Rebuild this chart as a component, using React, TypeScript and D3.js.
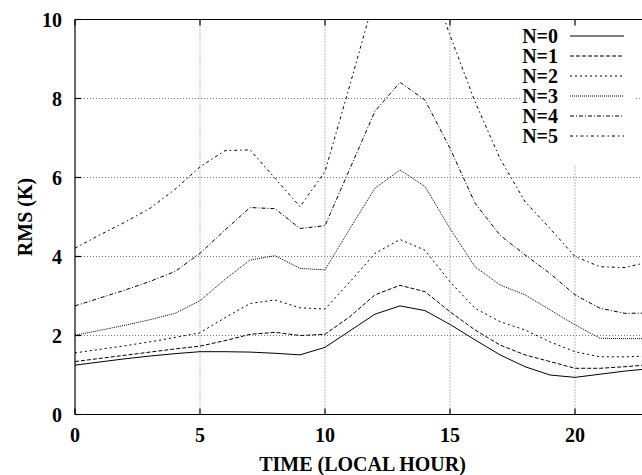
import React from "react";
import * as d3 from "d3";

// Local hour of each sample
const hours = d3.range(0, 24);

// RMS (K) per local hour, one series per N
const rmsN0 = [1.25, 1.33, 1.41, 1.48, 1.54, 1.59, 1.59, 1.58, 1.55, 1.51, 1.70, 2.12, 2.54, 2.75, 2.63, 2.28, 1.89, 1.51, 1.21, 1.00, 0.94, 1.02, 1.10, 1.16];
const rmsN1 = [1.34, 1.42, 1.50, 1.58, 1.66, 1.73, 1.87, 2.03, 2.08, 2.00, 2.03, 2.48, 3.03, 3.27, 3.11, 2.60, 2.14, 1.76, 1.51, 1.34, 1.17, 1.17, 1.21, 1.26];
const rmsN2 = [1.56, 1.65, 1.74, 1.84, 1.95, 2.07, 2.45, 2.81, 2.90, 2.70, 2.67, 3.36, 4.08, 4.43, 4.16, 3.36, 2.69, 2.35, 2.14, 1.84, 1.59, 1.46, 1.46, 1.48];
const rmsN3 = [2.01, 2.13, 2.26, 2.40, 2.56, 2.88, 3.42, 3.91, 4.02, 3.70, 3.66, 4.71, 5.73, 6.19, 5.77, 4.71, 3.74, 3.28, 3.03, 2.65, 2.27, 1.93, 1.92, 1.92];
const rmsN4 = [2.75, 2.95, 3.15, 3.37, 3.62, 4.08, 4.67, 5.24, 5.21, 4.71, 4.78, 6.23, 7.68, 8.41, 7.96, 6.74, 5.35, 4.54, 4.04, 3.57, 3.03, 2.69, 2.56, 2.57];
const rmsN5 = [4.21, 4.55, 4.87, 5.22, 5.70, 6.27, 6.68, 6.70, 5.98, 5.26, 6.15, 8.35, 10.6, 11.7, 11.4, 9.60, 7.92, 6.48, 5.39, 4.71, 4.00, 3.74, 3.72, 3.87];

const seriesNames = ["N=0", "N=1", "N=2", "N=3", "N=4", "N=5"];
const seriesValues = [rmsN0, rmsN1, rmsN2, rmsN3, rmsN4, rmsN5];
const dashes = [null, "4,2", "2,3", "1,1", "4,2,1,2", "3,3,1.5,3"];

const xTicks = [0, 5, 10, 15, 20];
const yTicks = [0, 2, 4, 6, 8, 10];

const W = 642;
const H = 475;
const left = 75;
const right = 650;
const top = 19.5;
const bottom = 414.5;

const font = "'Liberation Serif', 'Times New Roman', serif";

export default function App() {
  const x = d3.scaleLinear().domain([0, 23]).range([left, right]);
  const y = d3.scaleLinear().domain([0, 10]).range([bottom, top]);
  const line = d3
    .line<number>()
    .x((_, i) => x(hours[i]))
    .y((d) => y(d));

  const tick = 6;

  return (
    <svg
      width={W}
      height={H}
      style={{ position: "absolute", left: 0, top: 0, background: "#fff" }}
      fontFamily={font}
      fontWeight="bold"
    >
      <defs>
        <clipPath id="plot">
          <rect x={left} y={top} width={right - left} height={bottom - top} />
        </clipPath>
      </defs>
      <rect x={0} y={0} width={W} height={H} fill="#fff" />

      {/* grid */}
      <g stroke="#777" strokeWidth={1} strokeDasharray="1,2">
        {xTicks
          .filter((t) => t > 0)
          .map((t) => (
            <line key={"gx" + t} x1={x(t)} x2={x(t)} y1={bottom} y2={top} />
          ))}
        {yTicks
          .filter((t) => t > 0 && t < 10)
          .map((t) => (
            <line key={"gy" + t} x1={left} x2={right} y1={y(t)} y2={y(t)} />
          ))}
      </g>

      {/* key background */}
      <rect x={521} y={20} width={113} height={145} fill="#fff" />

      {/* series */}
      <g clipPath="url(#plot)" fill="none" stroke="#000" strokeWidth={1}>
        {seriesValues.map((vals, i) => (
          <path key={seriesNames[i]} d={line(vals) || ""} strokeDasharray={dashes[i] || undefined} />
        ))}
      </g>

      {/* frame and tics */}
      <g stroke="#000" strokeWidth={1.2} fill="none">
        <line x1={left} x2={left} y1={top} y2={bottom} />
        <line x1={left} x2={W} y1={top} y2={top} />
        <line x1={left} x2={W} y1={bottom} y2={bottom} />
        {xTicks.map((t) => (
          <g key={"tx" + t}>
            <line x1={x(t)} x2={x(t)} y1={bottom} y2={bottom - tick} />
            <line x1={x(t)} x2={x(t)} y1={top} y2={top + tick} />
          </g>
        ))}
        {yTicks.map((t) => (
          <line key={"ty" + t} x1={left} x2={left + tick} y1={y(t)} y2={y(t)} />
        ))}
      </g>

      {/* tick labels */}
      <g fontSize={20} fill="#000">
        {xTicks.map((t) => (
          <text key={"lx" + t} x={x(t)} y={bottom + 27} textAnchor="middle">
            {t}
          </text>
        ))}
        {yTicks.map((t) => (
          <text key={"ly" + t} x={left - 13} y={y(t) + 7} textAnchor="end">
            {t}
          </text>
        ))}
      </g>

      {/* axis titles */}
      <text x={(left + right) / 2} y={471} textAnchor="middle" fontSize={20}>
        TIME (LOCAL HOUR)
      </text>
      <text
        transform={`translate(32, ${(top + bottom) / 2}) rotate(-90)`}
        textAnchor="middle"
        fontSize={20}
      >
        RMS (K)
      </text>

      {/* key */}
      <g>
        {seriesNames.map((name, i) => {
          const ry = 36 + i * 20;
          return (
            <g key={"k" + name}>
              <text x={558} y={ry + 7} textAnchor="end" fontSize={20}>
                {name}
              </text>
              <line
                x1={570}
                x2={624}
                y1={ry}
                y2={ry}
                stroke="#000"
                strokeWidth={1}
                strokeDasharray={dashes[i] || undefined}
              />
            </g>
          );
        })}
      </g>
    </svg>
  );
}
